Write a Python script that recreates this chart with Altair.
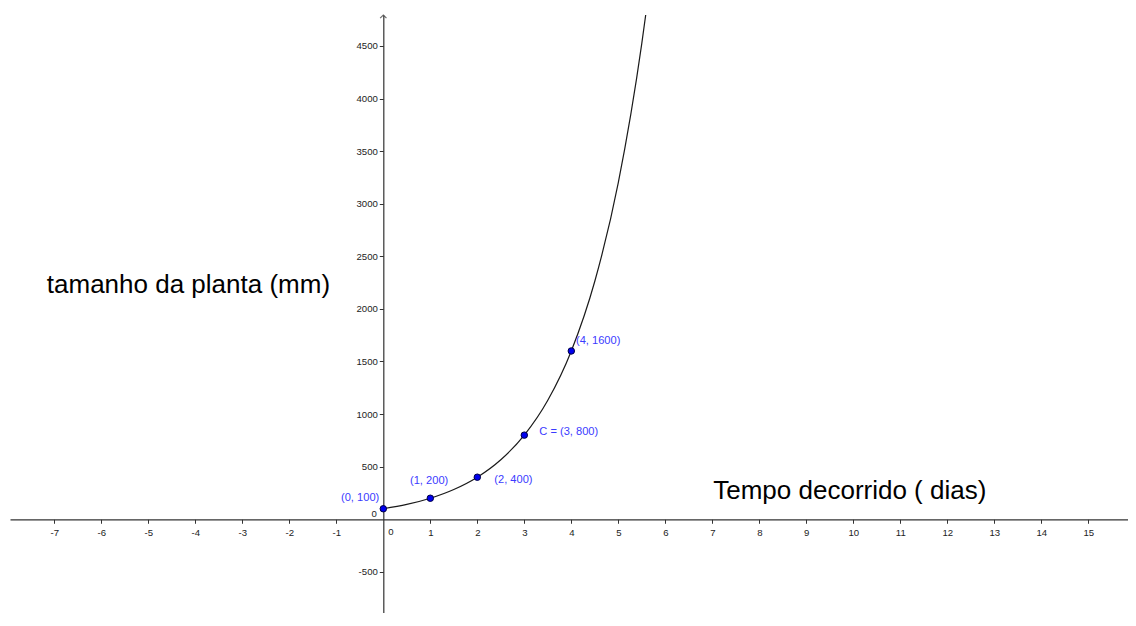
import altair as alt
import pandas as pd

# ---- data ----
point_x = [0, 1, 2, 3, 4]
point_y = [100, 200, 400, 800, 1600]
point_labels = ["(0, 100)", "(1, 200)", "(2, 400)", "C = (3, 800)", "(4, 1600)"]

curve_x = [0, 0.5, 1, 1.5, 2, 2.5, 3, 3.5, 4, 4.5, 5, 5.5, 5.6]
curve_y = [100, 141, 200, 283, 400, 566, 800, 1131, 1600, 2263, 3200, 4525, 4850]

x_ticks = [-7, -6, -5, -4, -3, -2, -1, 1, 2, 3, 4, 5, 6, 7, 8, 9, 10, 11, 12, 13, 14, 15]
y_ticks = [-500, 500, 1000, 1500, 2000, 2500, 3000, 3500, 4000, 4500]

x_title = "Tempo decorrido ( dias)"
y_title = "tamanho da planta (mm)"

x_domain = [-7.943, 15.845]
y_domain = [-891, 4794]

# ---- layout / style ----
W, H = 1118, 598
FONT = "Liberation Sans"
AXIS_COLOR = "#333333"
TICK_LABEL_COLOR = "#222222"
LABEL_COLOR = "#3b3bff"

curve_df = pd.DataFrame({"x": curve_x, "y": curve_y})
pts_df = pd.DataFrame({"x": point_x, "y": point_y, "label": point_labels})

x_zero_px = (0 - x_domain[0]) / (x_domain[1] - x_domain[0]) * W
y_zero_px = (y_domain[1] - 0) / (y_domain[1] - y_domain[0]) * H

xscale = alt.Scale(domain=x_domain, nice=False, zero=False)
yscale = alt.Scale(domain=y_domain, nice=False, zero=False)

x_axis = alt.Axis(
    values=x_ticks, title=None, grid=False, offset=-(H - y_zero_px),
    domainColor=AXIS_COLOR, domainWidth=1.2, tickColor=AXIS_COLOR, tickSize=4,
    labelPadding=4, labelFont=FONT, labelFontSize=9.6, labelColor=TICK_LABEL_COLOR,
    labelAlign="center", labelBaseline="top", labelFlush=False, labelOverlap=False,
    labelExpr="'' + datum.value",
)
y_axis = alt.Axis(
    values=y_ticks, title=None, grid=False, offset=-x_zero_px,
    domainColor=AXIS_COLOR, domainWidth=1.2, tickColor=AXIS_COLOR, tickSize=4,
    labelPadding=2, labelFont=FONT, labelFontSize=9.6, labelColor=TICK_LABEL_COLOR,
    labelAlign="right", labelBaseline="middle", labelFlush=False, labelOverlap=False,
    labelExpr="'' + datum.value",
)

curve = alt.Chart(curve_df).mark_line(
    color="#1a1a1a", strokeWidth=1.2, interpolate="monotone", clip=True
).encode(
    x=alt.X("x:Q", scale=xscale, axis=x_axis),
    y=alt.Y("y:Q", scale=yscale, axis=y_axis),
)

points = alt.Chart(pts_df).mark_point(
    filled=True, fill="#0000ee", stroke="#000044", strokeWidth=1, size=42, opacity=1
).encode(x="x:Q", y="y:Q")

# label offsets (pixels) for each point label
label_offsets = [(-42.3, -7.8), (-20.3, -14.3), (17.0, 5.8), (15.0, 0.0), (4.7, -7.0)]
label_layers = []
for (px, py, txt), (dx, dy) in zip(zip(point_x, point_y, point_labels), label_offsets):
    label_layers.append(
        alt.Chart().mark_text(
            text=txt, align="left", baseline="alphabetic", dx=dx, dy=dy,
            font=FONT, fontSize=11.1, color=LABEL_COLOR,
        ).encode(x=alt.datum(px), y=alt.datum(py))
    )

zero_x = alt.Chart().mark_text(
    text="0", align="center", baseline="top", dx=7.7, dy=8.2,
    font=FONT, fontSize=9.6, color=TICK_LABEL_COLOR,
).encode(x=alt.datum(0), y=alt.datum(0))
zero_y = alt.Chart().mark_text(
    text="0", align="right", baseline="middle", dx=-6.5, dy=-5.3,
    font=FONT, fontSize=9.6, color=TICK_LABEL_COLOR,
).encode(x=alt.datum(0), y=alt.datum(0))

arrow = alt.Chart().mark_point(
    shape="M-1,1L0,0L1,1", filled=False, stroke=AXIS_COLOR, strokeWidth=1.2, size=40
).encode(x=alt.datum(0), y=alt.datum(y_domain[1]))

title_y = alt.Chart().mark_text(
    text=y_title, align="left", baseline="alphabetic", font=FONT, fontSize=26, color="#000000"
).encode(x=alt.datum(-7.16), y=alt.datum(2148))
title_x = alt.Chart().mark_text(
    text=x_title, align="left", baseline="alphabetic", font=FONT, fontSize=26, color="#000000"
).encode(x=alt.datum(7.02), y=alt.datum(190))

chart = alt.layer(
    curve, points, arrow, zero_x, zero_y, title_y, title_x, *label_layers
).properties(
    width=W, height=H,
    autosize=alt.AutoSizeParams(type="none"),
    padding={"left": 2, "top": 7, "right": 0, "bottom": 0},
    background="white",
).configure_view(stroke=None)

chart.save("out.html", embed_options={"renderer": "svg", "actions": False})
